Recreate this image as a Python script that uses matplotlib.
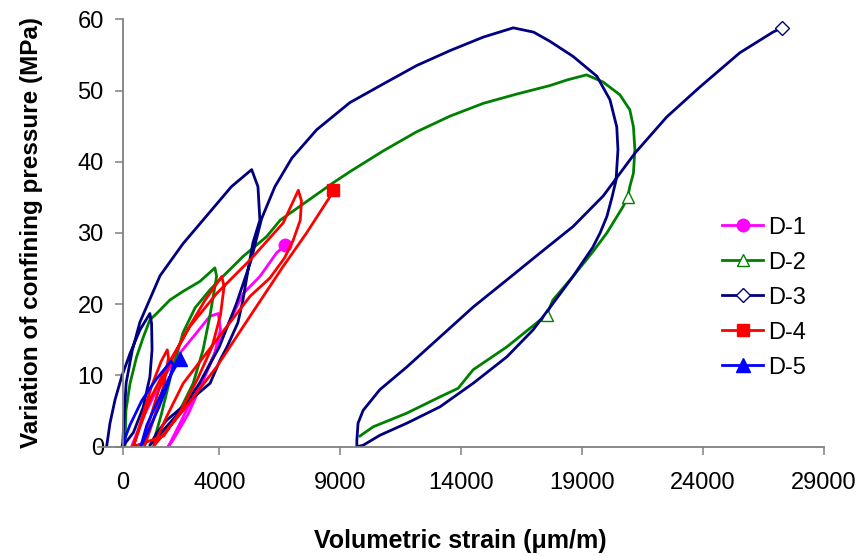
import matplotlib
matplotlib.use("Agg")
import matplotlib.pyplot as plt

plt.rcParams['font.family'] = ['Liberation Sans', 'DejaVu Sans']

# ── D-1 (magenta) ──
d1_x = [370, 860, 1550, 2240, 2920, 3610, 3960, 4050, 3800, 3300, 2700, 2100, 1890,
        2510, 3200, 3750, 4200, 4990, 5680, 6370, 6720]
d1_y = [0, 4.2, 8.9, 12.6, 15.4, 18.3, 18.7, 16.5, 13, 9, 4.5, 1, 0,
        4.2, 8.9, 12.6, 16, 21.5, 23.9, 27.2, 28.3]

# ── D-2 (green) ──
d2_x = [100, 140, 310, 580, 860, 1130, 1410, 1960, 2500, 3200, 3820, 3890, 3610, 3330, 2920, 2240, 1270,
        1600, 2000, 2500, 3000, 3610, 4150, 4980, 5960, 6520, 8690, 9400, 10770, 12160, 13540, 14920,
        16300, 17680, 18400, 19190, 19870, 20570, 20980, 21130, 21190, 21130, 20980, 20900, 20700,
        20030, 19460, 18630, 17800, 17540, 15890, 14500, 13880, 13130, 11750, 10370, 9820]
d2_y = [0, 5.1, 8.9, 12.6, 15.4, 17.8, 18.7, 20.6, 21.8, 23.2, 25.1, 23.9, 18.3, 13.6, 8.9, 4.2, 0.5,
        4.5, 10, 16, 19.5, 22, 23.9, 26.7, 29.5, 31.8, 37, 38.6, 41.5, 44.2, 46.4, 48.2,
        49.5, 50.7, 51.5, 52.2, 51.2, 49.4, 47.3, 44.9, 41.7, 38.4, 36.5, 35.1, 33.7,
        30, 27.4, 23.9, 20.6, 18.5, 14, 10.8, 8.2, 7, 4.7, 2.8, 1.5]
d2_marks = [43, 49]

# ── D-3 (navy) ──
d3_x = [-660, -520, -310, -40, 310, 720, 1130, 1200, 1220, 1130, 850, 450, 0,
        60, 150, 400, 720, 1550, 2500, 3500, 4500, 5340,
        5600, 5680, 5390, 5190, 4980, 4770, 4320, 4040, 3620, 2650, 1820, 1410, 1130,
        1600, 2400, 3200, 4000, 4700, 5300, 5750, 6300, 7000, 8030, 9400, 10770, 12160, 13540,
        14920, 16160, 17000, 17680, 18630, 19620, 20160, 20440, 20490, 20410, 20250, 20030,
        19750, 19450, 18630, 17800, 16980, 15890, 14500, 13130, 11760, 10640, 9950, 9690,
        9690, 9740, 9950, 10640, 11760, 13130, 14500, 15890, 17270, 18630, 19880, 21190,
        22510, 23880, 25530, 26900, 27260]
d3_y = [0, 3.3, 6.6, 9.8, 13.1, 16.4, 18.7, 17.3, 13.6, 9.8, 5.5, 2, 0,
        4, 9, 13.5, 17.5, 24, 28.5, 32.5, 36.5, 38.9,
        36.5, 31.8, 28.6, 24.8, 20.6, 17.4, 14, 12.2, 8.9, 6.1, 3.7, 1.9, 0.2,
        2, 5, 9, 14, 20, 26, 32, 36.5, 40.5, 44.5, 48.3, 50.9, 53.5, 55.6,
        57.5, 58.8, 58.2, 56.9, 54.8, 52, 48.7, 44.9, 41.7, 37.4, 35.1, 32.3,
        30, 28, 23.9, 20.1, 16.4, 12.6, 8.9, 5.6, 3.3, 1.6, 0.2, 0,
        0.9, 3.3, 5.1, 8, 11.2, 15.4, 19.6, 23.4, 27.2, 30.9, 35.2, 41.2,
        46.3, 50.5, 55.3, 58.2, 58.8]

# ── D-4 (red) ──
d4_x = [450, 800, 1200, 1600, 1850, 1900, 1700, 1300, 900,
        1100, 1500, 2000, 2700, 3400, 4100, 4200, 4050, 3700, 3100, 2400, 1700, 430,
        1130, 1820, 2790, 3890, 5270, 6640, 7270, 7400, 7350, 7060, 6700, 6100, 5270, 3890,
        2510, 1820, 1270,
        2510, 3890, 5270, 6640, 7610, 8580, 8690]
d4_y = [0, 4, 8.5, 12, 13.6, 12.5, 8.5, 4, 0,
        3.5, 8, 12, 16.5, 20.5, 23.9, 22.5, 18.5, 14, 9.5, 5, 1.5, 0,
        6.6, 11.2, 16.9, 21.5, 26.2, 31.4, 36, 34.5, 31.8, 29, 26.5, 23.7, 21.1, 15,
        8.9, 4.2, 0,
        5.1, 11.2, 18.3, 25.3, 30, 35.1, 36.1]

# ── D-5 (blue) ──
d5_x = [-30, 300, 800, 1400, 2000, 2100, 1900, 1500, 1100, 750,
        1000, 1400, 1900, 2370]
d5_y = [0, 3, 6.5, 9.5, 12, 11.5, 9, 5.5, 2.5, 0,
        3, 6, 9.5, 12.3]

xticks = [0, 4000, 9000, 14000, 19000, 24000, 29000]
yticks = [0, 10, 20, 30, 40, 50, 60]

fig = plt.figure(figsize=(8.6, 5.56), dpi=100)
ax = fig.add_axes([0.1144, 0.1966, 0.8434, 0.7687])

lw = 2.0
ax.plot(d1_x, d1_y, color="#FF00FF", lw=lw, marker="o", ms=9, markevery=[len(d1_x) - 1],
        label="D-1")
ax.plot(d2_x, d2_y, color="#008000", lw=lw, marker="^", ms=9, mfc="white", mec="#008000",
        mew=1, markevery=d2_marks, label="D-2")
ax.plot(d3_x, d3_y, color="#000080", lw=lw, marker="D", ms=7, mfc="white", mec="#000080",
        mew=1, markevery=[len(d3_x) - 1], label="D-3")
ax.plot(d4_x, d4_y, color="#FF0000", lw=lw, marker="s", ms=8, markevery=[len(d4_x) - 1],
        label="D-4")
ax.plot(d5_x, d5_y, color="#0000FF", lw=lw, marker="^", ms=10, markevery=[len(d5_x) - 1],
        label="D-5")

ax.set_xlim(-1000, 29000)
ax.set_ylim(0, 60)
ax.set_xticks(xticks)
ax.set_yticks(yticks)

for s in ["top", "right"]:
    ax.spines[s].set_visible(False)
ax.spines["left"].set_position(("data", 0))
ax.spines["left"].set_color("#808080")
ax.spines["bottom"].set_color("#808080")
ax.spines["left"].set_linewidth(1.3)
ax.spines["bottom"].set_linewidth(1.3)
ax.tick_params(axis="both", direction="out", length=5.5, width=1.1, color="#808080",
               labelsize=17)
ax.tick_params(axis="y", pad=8)
ax.tick_params(axis="x", pad=13)

ax.set_xlabel("Volumetric strain (μm/m)", fontsize=18, fontweight="bold")
ax.set_ylabel("Variation of confining pressure (MPa)", fontsize=17.5, fontweight="bold")
ax.xaxis.set_label_coords(0.4986, -0.2206)
ax.xaxis.label.set_va("center")
ax.yaxis.set_label_coords(-0.0916, 0.5)
ax.yaxis.label.set_va("center")

ax.legend(loc="upper left", bbox_to_anchor=(0.8598, 0.538), frameon=False, fontsize=17,
          handlelength=1.75, handletextpad=0.2, labelspacing=0.55, borderpad=0,
          borderaxespad=0)

fig.savefig("out.png", dpi=100)
